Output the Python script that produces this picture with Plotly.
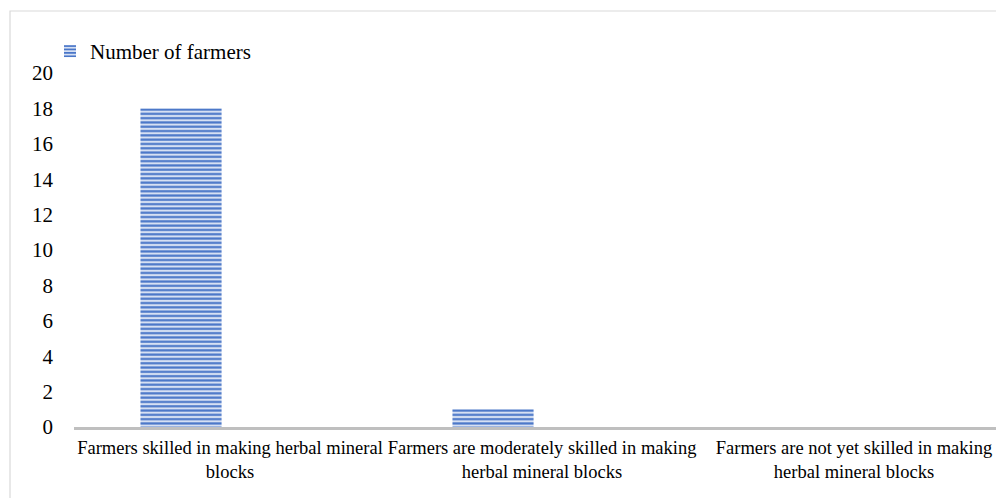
import plotly.graph_objects as go

# Farmer skill levels in making herbal mineral blocks
categories = [
    "Farmers skilled in making herbal mineral<br>blocks",
    "Farmers are moderately skilled in making<br>herbal mineral blocks",
    "Farmers are not yet skilled in making<br>herbal mineral blocks",
]
farmers = [18, 1, 0]
series_name = "Number of farmers"
y_ticks = [0, 2, 4, 6, 8, 10, 12, 14, 16, 18, 20]

W, H = 996, 498
ML, MR, MT, MB = 74, 0, 73, 71
plot_w = W - ML - MR
plot_h = H - MT - MB
cat_px = 312.0  # pixel width of one category slot
x_hi = -0.5 + plot_w / cat_px

fig = go.Figure()
fig.add_trace(go.Bar(
    x=categories,
    y=farmers,
    name=series_name,
    width=0.26,
    offset=-0.287,
    marker=dict(
        color="#b7c9ea",
        line=dict(width=0),
        pattern=dict(shape="-", fgcolor="#4a76c8", bgcolor="#d6e0f3",
                     size=4.3, solidity=0.5, fillmode="replace"),
    ),
    showlegend=True,
))

# light frame around the chart area
fig.add_shape(
    type="rect", xref="paper", yref="paper",
    x0=(10 - ML) / plot_w, x1=(W + 20 - ML) / plot_w,
    y0=-(H + 20 - (H - MB)) / plot_h, y1=((H - MB) - 11) / plot_h,
    line=dict(color="#d9d9d9", width=1.2), fillcolor="rgba(0,0,0,0)",
    layer="below",
)

fig.update_layout(
    width=W, height=H,
    margin=dict(l=ML, r=MR, t=MT, b=MB, pad=0, autoexpand=False),
    paper_bgcolor="white", plot_bgcolor="white",
    font=dict(family="Liberation Serif, Times New Roman, serif", color="#000000"),
    showlegend=True,
    legend=dict(
        xref="container", yref="container",
        x=50 / W, y=1 - 31 / H, xanchor="left", yanchor="top",
        font=dict(size=21, color="#000000"),
        itemwidth=30, bgcolor="rgba(0,0,0,0)",
        tracegroupgap=0,
    ),
    xaxis=dict(
        type="category",
        range=[-0.5, x_hi],
        automargin=False,
        tickangle=0,
        showline=True, linecolor="#bfbfbf", linewidth=2.5,
        showgrid=False, zeroline=False,
        ticks="", tickfont=dict(size=18.5, color="#000000"),
        ticklabelstandoff=2,
    ),
    yaxis=dict(
        range=[0, 20],
        tickvals=y_ticks,
        automargin=False,
        showline=False, showgrid=False, zeroline=False,
        ticks="", tickfont=dict(size=21, color="#000000"),
        ticklabelstandoff=20,
    ),
)

fig.write_html("out.html")
